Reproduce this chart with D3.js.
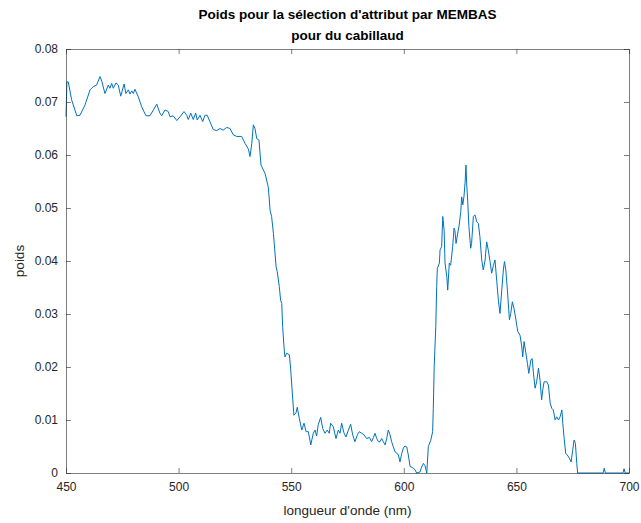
<!DOCTYPE html>
<html><head><meta charset="utf-8">
<script src="https://cdn.jsdelivr.net/npm/d3@7"></script>
<style>body{margin:0;background:#fff}svg{display:block}text{font-family:"Liberation Sans",Arial,Helvetica,sans-serif}</style>
</head><body>
<script>
const titleLines = ["Poids pour la sélection d'attribut par MEMBAS", "pour du cabillaud"];
const xLabel = "longueur d'onde (nm)";
const yLabel = "poids";
const xTicks = [450, 500, 550, 600, 650, 700];
const yTicks = [0, 0.01, 0.02, 0.03, 0.04, 0.05, 0.06, 0.07, 0.08];
const yTickLabels = ["0", "0.01", "0.02", "0.03", "0.04", "0.05", "0.06", "0.07", "0.08"];

const wavelength = [450.0,450.4,451.0,452.5,454.8,456.2,458.4,460.7,462.1,463.6,465.1,465.9,467.3,468.8,469.5,470.3,471.0,472.2,473.2,474.3,475.8,476.6,477.7,478.4,479.2,479.9,480.6,482.1,483.6,485.5,487.3,488.8,490.3,491.7,492.5,494.0,495.4,496.2,497.6,499.2,500.6,502.4,503.6,504.3,505.4,506.5,507.6,508.3,509.5,510.7,511.7,512.7,513.9,515.4,516.9,518.4,519.8,521.4,522.8,524.3,525.8,528.0,529.5,531.0,531.7,532.5,533.2,533.9,534.7,535.7,536.6,538.4,539.8,540.3,
540.6,541.3,542.1,543.3,543.8,544.7,545.3,545.8,546.2,546.8,547.2,548.0,549.2,549.8,550.7,551.2,552.1,552.7,553.6,554.7,555.7,556.6,557.6,558.7,559.8,560.6,561.3,562.0,563.1,564.0,565.0,566.0,566.9,567.5,568.7,569.9,570.9,571.7,572.4,573.4,574.3,575.4,576.4,577.3,578.3,579.4,580.2,581.3,582.3,583.5,584.7,585.7,586.5,587.2,588.0,588.7,589.4,590.2,590.9,591.7,592.4,593.1,593.9,594.6,595.3,596.1,596.8,597.6,598.3,599.1,599.8,600.5,601.3,602.0,602.8,603.5,604.2,605.0,605.7,607.2,607.9,608.7,609.4,610.2,610.9,612.0,612.8,613.1,613.5,614.2,614.6,614.9,615.8,616.1,616.8,617.3,617.9,618.3,619.1,619.5,620.2,620.8,621.7,622.3,622.7,623.2,623.8,624.6,625.3,625.7,626.2,626.7,627.2,627.6,627.9,628.4,628.9,629.7,630.1,630.9,631.6,632.4,633.1,633.8,634.6,635.3,636.1,636.8,637.5,638.3,639.0,639.8,640.5,641.3,642.0,642.7,643.5,644.2,644.7,645.3,646.0,646.9,647.5,648.2,648.9,649.8,650.6,651.6,652.4,652.8,653.4,654.0,654.9,655.5,656.4,657.0,657.5,658.3,659.0,659.8,660.5,661.2,661.7,662.3,663.5,664.2,665.0,665.7,666.4,667.2,667.9,668.7,669.4,670.2,670.6,671.2,671.9,672.6,673.5,674.3,675.0,675.6,676.2,676.8,677.2,688.5,689.0,689.5,697.3,697.8,698.3,700.0];

const weight = [0.0672,0.0738,0.0738,0.0704,0.0674,0.0675,0.0694,0.0723,0.0729,0.0732,0.0748,0.0739,0.0716,0.0732,0.0726,0.0735,0.0726,0.0736,0.0732,0.0711,0.0734,0.0716,0.0723,0.0715,0.0721,0.0716,0.0724,0.0710,0.0691,0.0674,0.0674,0.0685,0.0696,0.0679,0.0674,0.0685,0.0682,0.0672,0.0674,0.0665,0.0672,0.0682,0.0675,0.0667,0.0679,0.0667,0.0679,0.0666,0.0675,0.0663,0.0675,0.0675,0.0663,0.0648,0.0646,0.0650,0.0647,0.0652,0.0650,0.0638,0.0635,0.0635,0.0622,0.0611,0.0597,0.0622,0.0657,0.0650,0.0631,0.0628,0.0581,0.0565,0.0540,0.0515,
0.0496,0.0484,0.0452,0.0389,0.0380,0.0352,0.0326,0.0320,0.0276,0.0238,0.0219,0.0226,0.0223,0.0194,0.0138,0.0109,0.0113,0.0124,0.0103,0.0081,0.0094,0.0078,0.0078,0.0053,0.0075,0.0081,0.0070,0.0091,0.0105,0.0084,0.0075,0.0081,0.0075,0.0094,0.0087,0.0065,0.0081,0.0075,0.0094,0.0076,0.0068,0.0081,0.0092,0.0072,0.0059,0.0072,0.0078,0.0075,0.0072,0.0065,0.0067,0.0059,0.0067,0.0075,0.0065,0.0059,0.0059,0.0065,0.0059,0.0053,0.0065,0.0081,0.0072,0.0059,0.0050,0.0040,0.0038,0.0034,0.0021,0.0037,0.0047,0.0051,0.0049,0.0034,0.0012,0.0011,0.0009,0.0006,0.0000,0.0002,0.0011,0.0018,0.0014,0.0000,0.0050,0.0062,0.0078,0.0122,0.0201,0.0276,0.0352,0.0386,0.0396,0.0421,0.0427,0.0484,0.0458,0.0396,0.0370,0.0345,0.0396,0.0392,0.0427,0.0462,0.0458,0.0433,0.0449,0.0468,0.0493,0.0521,0.0506,0.0521,0.0547,0.0581,0.0547,0.0512,0.0465,0.0424,0.0433,0.0484,0.0487,0.0474,0.0471,0.0446,0.0402,0.0383,0.0402,0.0436,0.0421,0.0399,0.0377,0.0392,0.0402,0.0361,0.0326,0.0301,0.0345,0.0383,0.0399,0.0383,0.0345,0.0289,0.0301,0.0323,0.0311,0.0289,0.0267,0.0260,0.0238,0.0219,0.0248,0.0232,0.0207,0.0188,0.0213,0.0216,0.0191,0.0160,0.0172,0.0198,0.0175,0.0138,0.0157,0.0172,0.0172,0.0166,0.0132,0.0122,0.0119,0.0100,0.0106,0.0100,0.0106,0.0119,0.0094,0.0065,0.0037,0.0034,0.0028,0.0021,0.0043,0.0062,0.0056,0.0018,0.0000,0.0000,0.0009,0.0000,0.0000,0.0008,0.0000,0.0000];

const W = 641, H = 523;
const m = {left: 66, right: 629, top: 49, bottom: 473};
const svg = d3.select("body").append("svg").attr("width", W).attr("height", H);
const x = d3.scaleLinear().domain([450, 700]).range([m.left, m.right]);
const y = d3.scaleLinear().domain([0, 0.08]).range([m.bottom, m.top]);
const textCol = "#262626", frameCol = "#262626";

// data line
const pts = wavelength.map((w, i) => [w, weight[i]]);
const g = svg.append("g");
g.append("path").datum(pts)
  .attr("fill", "none").attr("stroke", "#0072BD").attr("stroke-width", 1)
  .attr("stroke-linejoin", "round")
  .attr("d", d3.line().x(d => x(d[0])).y(d => y(d[1])));

// axes
const tl = 5;
const axB = d3.axisBottom(x).tickValues(xTicks).tickSizeInner(-tl).tickSizeOuter(0).tickPadding(9).tickFormat(d3.format("d"));
const axL = d3.axisLeft(y).tickValues(yTicks).tickSizeInner(-tl).tickSizeOuter(0).tickPadding(8).tickFormat((d, i) => yTickLabels[i]);
const axT = d3.axisTop(x).tickValues(xTicks).tickSizeInner(-tl).tickSizeOuter(0).tickFormat("");
const axR = d3.axisRight(y).tickValues(yTicks).tickSizeInner(-tl).tickSizeOuter(0).tickFormat("");

function style(sel) {
  sel.select(".domain").attr("stroke", frameCol).attr("stroke-width", 0.6);
  sel.selectAll(".tick line").attr("stroke", frameCol).attr("stroke-width", 0.6);
  sel.selectAll(".tick text").attr("fill", textCol).style("font-size", "12px").style("font-family", "'Liberation Sans', Arial, sans-serif");
}
svg.append("g").attr("transform", `translate(0,${m.bottom})`).call(axB).call(style);
svg.append("g").attr("transform", `translate(${m.left},0)`).call(axL).call(style);
svg.append("g").attr("transform", `translate(0,${m.top})`).call(axT).call(style);
svg.append("g").attr("transform", `translate(${m.right},0)`).call(axR).call(style);

// labels
svg.append("text").attr("x", (m.left + m.right) / 2).attr("y", 515)
  .attr("text-anchor", "middle").attr("fill", textCol).style("font-size", "13.5px").text(xLabel);
svg.append("text").attr("transform", `translate(24,${(m.top + m.bottom) / 2}) rotate(-90)`)
  .attr("text-anchor", "middle").attr("fill", textCol).style("font-size", "13.5px").text(yLabel);

titleLines.forEach((t, i) => {
  svg.append("text").attr("x", (m.left + m.right) / 2).attr("y", 19 + i * 21)
    .attr("text-anchor", "middle").attr("fill", "#000").style("font-size", "13.5px")
    .style("font-weight", "bold").text(t);
});
</script>
</body></html>
